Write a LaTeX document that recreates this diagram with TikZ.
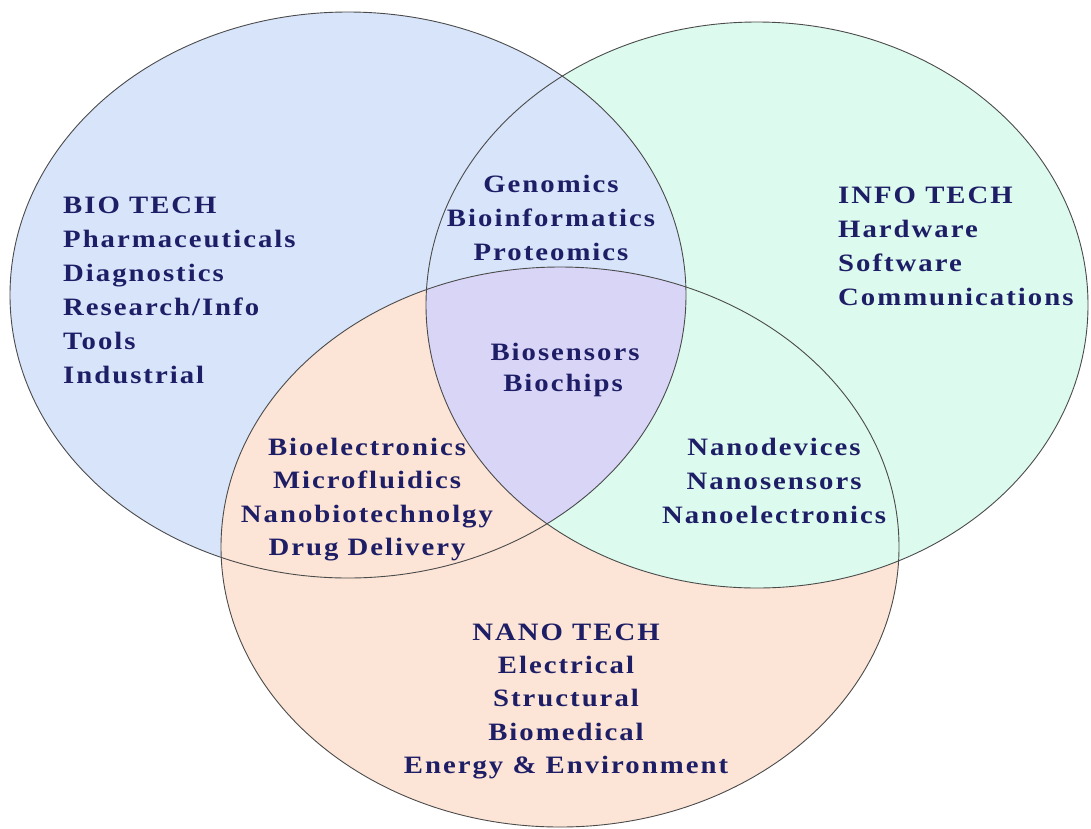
\documentclass[tikz,border=0pt]{standalone}
\usepackage{fontspec}
\newfontfamily\vennfont[FakeStretch=1.15,LetterSpace=8]{Liberation Serif}
\definecolor{biofill}{RGB}{215,228,250}
\definecolor{infofill}{RGB}{220,250,238}
\definecolor{nanofill}{RGB}{252,229,214}
\definecolor{trifill}{RGB}{217,213,247}
\definecolor{edgecol}{RGB}{75,75,75}
\definecolor{navy}{RGB}{30,30,102}
\tikzset{
  lbl/.style={font=\vennfont\bfseries\fontsize{25}{34}\selectfont, text=navy, inner sep=0pt},
  rim/.style={draw=edgecol, line width=0.9pt}
}
\def\biopath{(348,295) ellipse [x radius=338pt, y radius=283pt]}
\def\infopath{(757,305) ellipse [x radius=331pt, y radius=283pt]}
\def\nanopath{(560,547) ellipse [x radius=339pt, y radius=280pt]}
\begin{document}
\begin{tikzpicture}[x=1pt,y=-1pt]
\fill[white] (0,0) rectangle (1091,828);
\useasboundingbox (0,0) rectangle (1091,828);
% base fills
\fill[biofill] \biopath;
\fill[infofill] \infopath;
\fill[nanofill] \nanopath;
% pairwise overlaps
\begin{scope}\clip \biopath; \fill[biofill] \infopath; \end{scope}
\begin{scope}\clip \infopath; \fill[infofill] \nanopath; \end{scope}
\begin{scope}\clip \nanopath; \fill[nanofill] \biopath; \end{scope}
% triple overlap
\begin{scope}\clip \biopath; \clip \infopath; \fill[trifill] \nanopath; \end{scope}
% outlines
\draw[rim] \biopath;
\draw[rim] \infopath;
\draw[rim] \nanopath;
% BIO TECH
\foreach \t [count=\i] in {BIO TECH, Pharmaceuticals, Diagnostics, Research/Info, Tools, Industrial}
  \node[lbl, anchor=base west] (bio\i) at (63,{213+34*(\i-1)}) {\t};
% Bio & Info
\foreach \t [count=\i] in {Genomics, Bioinformatics, Proteomics}
  \node[lbl, anchor=base] (bi\i) at (551,{192+34*(\i-1)}) {\t};
% INFO TECH
\foreach \t [count=\i] in {INFO TECH, Hardware, Software, Communications}
  \node[lbl, anchor=base west] (info\i) at (838,{203+34.3*(\i-1)}) {\t};
% triple
\node[lbl, anchor=base] (tri1) at (565,360) {Biosensors};
\node[lbl, anchor=base] (tri2) at (563,391) {Biochips};
% Bio & Nano
\foreach \t [count=\i] in {Bioelectronics, Microfluidics, Nanobiotechnolgy, Drug Delivery}
  \node[lbl, anchor=base] (bn\i) at (367,{455+33.5*(\i-1)}) {\t};
% Info & Nano
\foreach \t [count=\i] in {Nanodevices, Nanosensors, Nanoelectronics}
  \node[lbl, anchor=base] (in\i) at (774,{455+34*(\i-1)}) {\t};
% NANO TECH
\foreach \t [count=\i] in {NANO TECH, Electrical, Structural, Biomedical, Energy \& Environment}
  \node[lbl, anchor=base] (nano\i) at (566,{640+33.4*(\i-1)}) {\t};
\end{tikzpicture}
\end{document}
